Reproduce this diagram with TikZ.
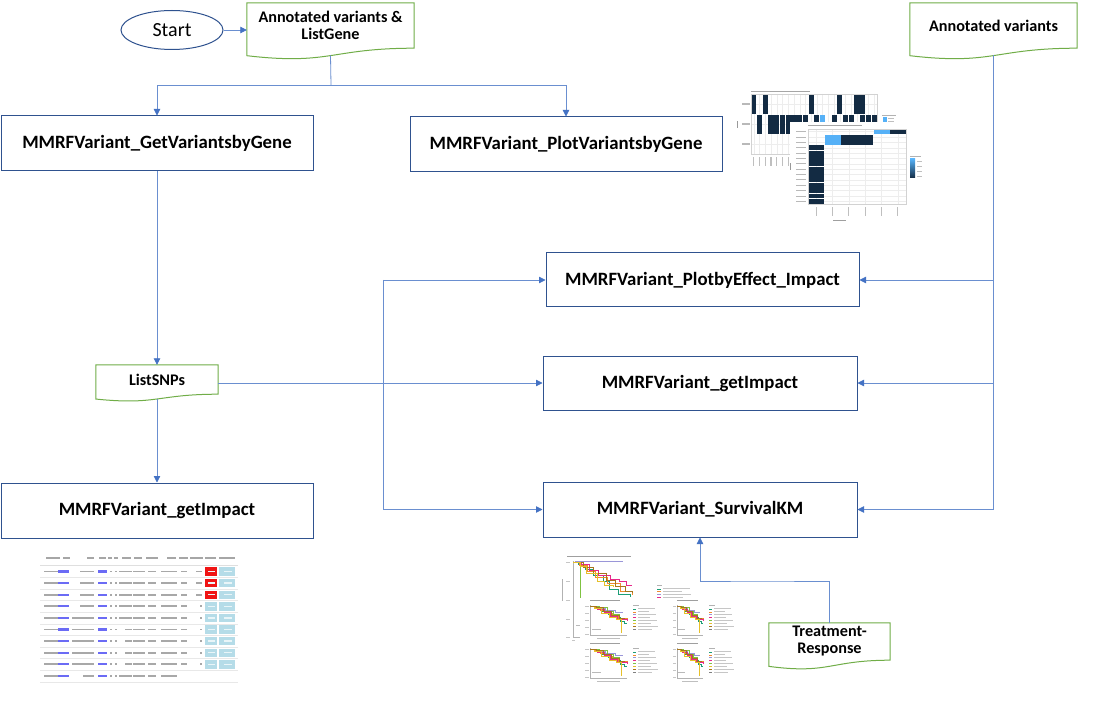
\documentclass[tikz,border=0pt]{standalone}
\usepackage{fontspec}
\setmainfont{Carlito}
\usetikzlibrary{arrows.meta,calc,shapes.geometric}

\definecolor{boxblue}{HTML}{2F528F}
\definecolor{connblue}{HTML}{6A8FD0}
\definecolor{arrowblue}{HTML}{4472C4}
\definecolor{docgreen}{HTML}{70AD47}
\definecolor{hmnavy}{HTML}{132B43}
\definecolor{hmblue}{HTML}{56B1F7}
\definecolor{gridgray}{HTML}{EDEDED}
\definecolor{tabblue}{HTML}{B5DCE8}
\definecolor{tabred}{HTML}{F01414}
\definecolor{tabtext}{HTML}{A8A8A8}
\definecolor{tablink}{HTML}{6B6BF5}
\definecolor{kmteal}{HTML}{1B9E77}
\definecolor{kmorange}{HTML}{F08A2E}
\definecolor{kmpurple}{HTML}{9A96D8}
\definecolor{kmpink}{HTML}{E7298A}
\definecolor{kmlime}{HTML}{7FC241}
\definecolor{kmyellow}{HTML}{E6C02A}
\definecolor{kmbrown}{HTML}{A6761D}

% one small survival panel, drawn in local coordinates; #1 = frame width
\newcommand{\kmpanel}[1]{%
  \fill[white] (-10,-7) rectangle ({#1+40},37);
  \fill[gray!75] (0,-4.6) rectangle ({#1*0.8},-3.6);
  \draw[gray!60,line width=0.4pt] (0,0) -- (0,30) -- (#1,30);
  \fill[gray!50] ({#1*0.2},33) rectangle ({#1*0.8},34);
  \begin{scope}[xscale=#1/37]
    \foreach \yy in {1,8,15,22,29} \fill[gray!45] (-5,\yy-0.45) rectangle (-1.5,\yy+0.45);
    \fill[gray!55] (2,23.5) rectangle (11,24.5);
    \draw[kmteal,line width=0.5pt] (0,1) -| (6,3) -| (12,6) -| (18,9) -| (24,12) -| (30,16) -| (34,18) -- (37,18);
    \draw[kmorange,line width=0.5pt] (0,1) -| (5,2) -| (10,5) -| (16,8) -| (22,10) -| (28,13) -| (37,15);
    \draw[kmpurple,line width=0.5pt] (0,1) -| (8,3) -| (15,5) -| (25,7) -- (33,7);
    \draw[kmpink,line width=0.5pt] (0,1) -| (7,4) -| (14,7) -| (20,11) -| (27,14) -| (37,16);
    \draw[kmlime,line width=0.5pt] (0,1) -| (9,2) -| (17,6) -| (23,9) -- (30,9);
    \draw[kmyellow,line width=0.5pt] (0,1) -| (4,3) -| (11,8) -| (19,12) -| (26,14) -| (31,28);
    \draw[kmbrown,line width=0.5pt] (0,1) -| (6,2) -| (13,6) -| (21,10) -| (29,13) -- (35,13);
  \end{scope}
  \fill[gray!60] ({#1+6},0) rectangle ({#1+12},0.9);
  \foreach \c [count=\k] in {kmteal,kmorange,kmpurple,kmpink,kmlime,kmyellow,kmbrown,gray} {
    \draw[\c,line width=0.6pt] ({#1+6},{1+2.9*\k}) -- ++(3,0);
    \fill[gray!45] ({#1+10.5},{1+2.9*\k-0.45}) rectangle ++({10+mod(\k*7,13)},0.9);
  }
}

\begin{document}
\begin{tikzpicture}[x=1pt,y=-1pt,
  procbox/.style={draw=boxblue, line width=1pt, fill=white, inner sep=0pt,
    font=\bfseries\fontsize{18.8}{21}\selectfont},
  docnode/.style={inner sep=0pt, align=center,
    font=\bfseries\fontsize{16.2}{17}\selectfont},
  docline/.style={draw=docgreen, line width=1pt},
  conn/.style={draw=connblue, line width=0.8pt},
  arr/.style={-{Triangle[length=6.5pt,width=6.5pt,color=arrowblue]}},
  bar/.style={fill=tabtext},
]
\fill[white] (0,0) rectangle (1103,703);
\useasboundingbox (0,0) rectangle (1103,703);

% ---------- process boxes ----------
\node[procbox, minimum width=312, minimum height=55] (gvg) at (157,143.5) {MMRFVariant\_GetVariantsbyGene};
\node[procbox, minimum width=312, minimum height=55] (pvg) at (566,144.5) {MMRFVariant\_PlotVariantsbyGene};
\node[procbox, minimum width=313, minimum height=54] (pei) at (702.5,280) {MMRFVariant\_PlotbyEffect\_Impact};
\node[procbox, minimum width=314, minimum height=54] (gim) at (700,383) {MMRFVariant\_getImpact};
\node[procbox, minimum width=314, minimum height=55] (skm) at (700,509.5) {MMRFVariant\_SurvivalKM};
\node[procbox, minimum width=312, minimum height=55] (gil) at (157,510.5) {MMRFVariant\_getImpact};

% ---------- start terminal ----------
\node[ellipse, draw=boxblue, line width=1pt, minimum width=102, minimum height=39, inner sep=0pt,
  font=\fontsize{20}{24}\selectfont] (st) at (172,30) {Start};

% ---------- document shapes ----------
\node[docnode, minimum width=167, minimum height=45] (docA) at (330.5,25.5) {Annotated variants \&\\ListGene};
\node[docnode, minimum width=167, minimum height=45] (docB) at (993.5,25.5) {Annotated variants};
\node[docnode, minimum width=122, minimum height=29] (docC) at (157,379.5) {ListSNPs};
\node[docnode, minimum width=121, minimum height=37] (docD) at (829.5,641.5) {Treatment-\\Response};
\foreach \d in {docA,docB,docC,docD}{
  \draw[docline] let \p1=(\d.north west), \p2=(\d.south east), \n1={\y1-\y2} in
    (\p1) -- (\x2,\y1) -- (\p2)
    .. controls ({(\x1+\x2)/2},\y2) and ({(\x1+\x2)/2},{\y2-0.38*\n1}) ..
    (\x1,{\y2-0.165*\n1}) -- cycle;
}
\coordinate (docAout) at ($(docA.south)+(0,7.3)$);
\coordinate (docBout) at ($(docB.south)+(0,7.3)$);
\coordinate (docCout) at ($(docC.south)+(0,4.7)$);

% ---------- connectors ----------
\draw[conn,arr] (st.east) -- (st.east -| docA.west);
\coordinate (splitA) at (331,85);
\draw[conn] (docAout) -- (splitA);
\draw[conn,arr] (splitA) -| (gvg.north);
\draw[conn,arr] (splitA) -| (pvg.north);

\draw[conn,arr] (docBout) |- (skm.east);
\draw[conn,arr] (docBout |- pei.east) -- (pei.east);
\draw[conn,arr] (docBout |- gim.east) -- (gim.east);

\draw[conn,arr] (gvg.south) -- (docC.north);
\draw[conn,arr] (docCout) -- (gil.north);
\draw[conn,arr] (docC.east |- gim.west) -- (gim.west);
\coordinate (busC) at (383,0);
\draw[conn,arr] (busC |- pei.west) |- (skm.west);
\draw[conn,arr] (busC |- pei.west) -- (pei.west);

\coordinate (turnD) at (760,581);
\draw[conn,arr] (docD.north) |- (turnD) -| (skm.south);

% ---------- heatmap thumbnails ----------
% back panel
\fill[white] (751,94) rectangle (877,154);
\foreach \i in {0,...,21} \draw[gridgray,line width=0.4pt] ({751+5.73*\i+2.86},94) -- ++(0,60);
\foreach \yy in {104,124,144} \draw[gridgray,line width=0.4pt] (751,\yy) -- (877,\yy);
\foreach \i in {0,2,10,15,18,19} \fill[hmnavy] ({751+5.73*\i+0.3},94.5) rectangle ++(5.1,20);
\foreach \i in {1,3,4,5,6,7,8,9,11,14,16,17,19,20,21} \fill[hmnavy] ({751+5.73*\i+0.3},114.8) rectangle ++(5.1,19);
\fill[hmblue] ({751+5.73*12+0.3},114.8) rectangle ++(5.1,19);
\draw[gray!35,line width=0.4pt] (751,94) rectangle (877,154);
\fill[gray!70] (751,90.6) rectangle (810,91.8);
\foreach \yy in {104,124,144} \fill[gray!55] (742,\yy-0.6) rectangle (749.5,\yy+0.6);
\fill[gray!80] (737,121) rectangle (738.4,128);
\foreach \i in {0,...,12} \fill[gray!50] ({751+5.73*\i+2.3},157) rectangle ++(1.1,9);
\fill[gray!60] (882,114.6) rectangle (896,115.6);
\fill[hmblue] (882.5,117.5) rectangle (886.5,122.5);
\fill[gray!50] (888,118.5) rectangle (894,119.4);
\fill[gray!50] (888,121.5) rectangle (894,122.4);
% front panel
\fill[white] (790,122) rectangle (928,225);
\fill[gray!70] (808,124.6) rectangle (862,125.8);
\foreach \i in {0,...,5} \draw[gridgray,line width=0.4pt] ({808+16.33*\i+8.16},129) -- ++(0,75);
\foreach \j in {0,...,13} \draw[gridgray,line width=0.4pt] (808,{129+5.36*\j+2.68}) -- ++(98,0);
\fill[hmblue] ({808+16.33*4+0.3},129.3) rectangle ++(16,5);
\fill[hmnavy] ({808+16.33*5+0.3},129.3) rectangle ++(16,5);
\fill[hmblue] ({808+16.33*1+0.3},134.7) rectangle ++(16,10.2);
\fill[hmnavy] ({808+16.33*2+0.3},134.7) rectangle ++(32.3,10.2);
\foreach \j in {3,...,13} \fill[hmnavy] (808.3,{129+5.36*\j+0.25}) rectangle ++(15.8,4.9);
\draw[gray!35,line width=0.4pt] (808,129) rectangle (906,204);
\foreach \j in {0,...,13} \fill[gray!55] (796,{129+5.36*\j+2.2}) rectangle ++(10,0.9);
\fill[gray!80] (790,163) rectangle (791.4,170);
\foreach \i in {0,...,5} \fill[gray!50] ({808+16.33*\i+7.6},207) rectangle ++(1.1,9);
\fill[gray!75] (833,220) rectangle (846,221.3);
\fill[gray!60] (910,155.6) rectangle (921,156.6);
\shade[top color=hmblue,bottom color=hmnavy] (910,159) rectangle (915,178);
\foreach \yy in {161,166,171,176} \fill[gray!50] (917,\yy-0.45) rectangle (922,\yy+0.45);

% ---------- impact table thumbnail ----------
\foreach \xa/\xb in {46/60,63/70,87/94,99/106,108/112,114/118,122/131,134/142,146/158,167/176,179/188,190/203,205/216,219/235}
  \fill[gray!70] (\xa,557.2) rectangle (\xb,559.2);
\draw[gray!25,line width=0.4pt] (40,564.8) -- (238,564.8);
\foreach \r in {0,...,9}{
  \pgfmathsetmacro{\ry}{571.5+11.6*\r}
  \draw[gray!18,line width=0.4pt] (40,\ry+5.8) -- (238,\ry+5.8);
  \fill[bar] (44,\ry-0.9) rectangle (62,\ry+0.9);
  \fill[tablink] (58,\ry-1.1) rectangle (69,\ry+1.1);
  \fill[tablink] (98,\ry-1.1) rectangle (107,\ry+1.1);
  \fill[bar] (110,\ry-0.9) rectangle (112,\ry+0.9);
  \fill[bar] (115,\ry-0.9) rectangle (117,\ry+0.9);
  \fill[bar] (133,\ry-0.9) rectangle (145,\ry+0.9);
  \fill[bar] (148,\ry-0.9) rectangle (156,\ry+0.9);
  \fill[bar] (161,\ry-0.9) rectangle (177,\ry+0.9);
}
\foreach \r in {0,...,3} \fill[bar] (80,{571.5+11.6*\r-0.9}) rectangle ++(14,1.8);
\foreach \r in {4,...,8} \fill[bar] (72,{571.5+11.6*\r-0.9}) rectangle ++(22,1.8);
\fill[bar] (83,{571.5+11.6*9-0.9}) rectangle ++(11,1.8);
\foreach \r in {0,...,4,9} \fill[bar] (119,{571.5+11.6*\r-0.9}) rectangle ++(13,1.8);
\foreach \r in {5,...,8} \fill[bar] (125,{571.5+11.6*\r-0.9}) rectangle ++(7,1.8);
\foreach \r in {0,...,8} \fill[bar] (181,{571.5+11.6*\r-0.9}) rectangle ++(6,1.8);
\foreach \r in {0,...,2} \fill[bar] (196,{571.5+11.6*\r-0.9}) rectangle ++(6,1.8);
\foreach \r in {3,...,8} \fill[bar] (200,{571.5+11.6*\r-0.9}) rectangle ++(2,1.8);
\foreach \r in {0,...,2} \fill[tabred] (205,{571.5+11.6*\r-4.2}) rectangle ++(12,8.4);
\foreach \r in {3,...,8} \fill[tabblue] (205,{571.5+11.6*\r-4.2}) rectangle ++(12,8.4);
\foreach \r in {0,...,8} {
  \fill[tabblue] (219,{571.5+11.6*\r-4.2}) rectangle ++(16,8.4);
  \fill[white!70!tabblue] (224,{571.5+11.6*\r-0.7}) rectangle ++(8,1.4);
  \fill[white!70!tabblue] (207.5,{571.5+11.6*\r-0.7}) rectangle ++(7,1.4);
}

% ---------- survival curve thumbnails ----------
\begin{scope}[shift={(573,561)}]
  \fill[gray!75] (-6,-5.5) rectangle (58,-4.5);
  \draw[gray!60,line width=0.4pt] (0,0) -- (0,76) -- (17,76);
  \foreach \yy in {1,20,39,58,76} \fill[gray!45] (-7,\yy-0.5) rectangle (-3,\yy+0.5);
  \fill[gray!60] (-11,18) rectangle (-9.8,40);
  \fill[gray!45] (-1,79) rectangle (2,80);
  \fill[gray!45] (13,79) rectangle (17,80);
  \fill[gray!55] (3,63.5) rectangle (13,64.5);
  \draw[kmpurple,line width=0.6pt] (2,0.5) -- (50,0.5);
  \draw[kmlime,line width=0.6pt] (0,1) -| (7,39) -- (19,39);
  \draw[kmteal,line width=0.6pt] (0,1) -| (5,3) -| (12,8) -| (20,14) -| (30,20) -| (36,28) -| (45,33) -| (57,36);
  \draw[kmorange,line width=0.6pt] (0,1) -| (6,4) -| (14,10) -| (22,16) -| (34,22) -| (47,30) -| (59,34);
  \draw[kmpink,line width=0.6pt] (0,1) -| (8,3) -| (16,9) -| (25,14) -| (37,18) -| (46,20) -| (53,24) -- (59,24);
  \draw[kmbrown,line width=0.6pt] (0,1) -| (10,6) -| (20,12) -| (33,19) -| (42,25) -| (52,30) -| (59,32);
  \draw[kmyellow,line width=0.6pt] (0,1) -| (7,5) -| (13,12) -| (24,20) -| (31,24) -| (40,26);
  \fill[gray!60] (84,24) rectangle (89,25);
  \foreach \c [count=\k] in {kmteal,kmorange,kmpurple,kmpink,kmlime} {
    \draw[\c,line width=0.7pt] (84,{25+2.9*\k}) -- ++(4,0);
    \fill[gray!45] (89.5,{25+2.9*\k-0.45}) rectangle ++({18+mod(\k*9,17)},0.9);
  }
\end{scope}
\begin{scope}[shift={(590,605)}] \kmpanel{37} \end{scope}
\begin{scope}[shift={(677,605)}] \kmpanel{26} \end{scope}
\begin{scope}[shift={(590,648)}] \kmpanel{37} \end{scope}
\begin{scope}[shift={(677,648)}] \kmpanel{26} \end{scope}

\end{tikzpicture}
\end{document}
